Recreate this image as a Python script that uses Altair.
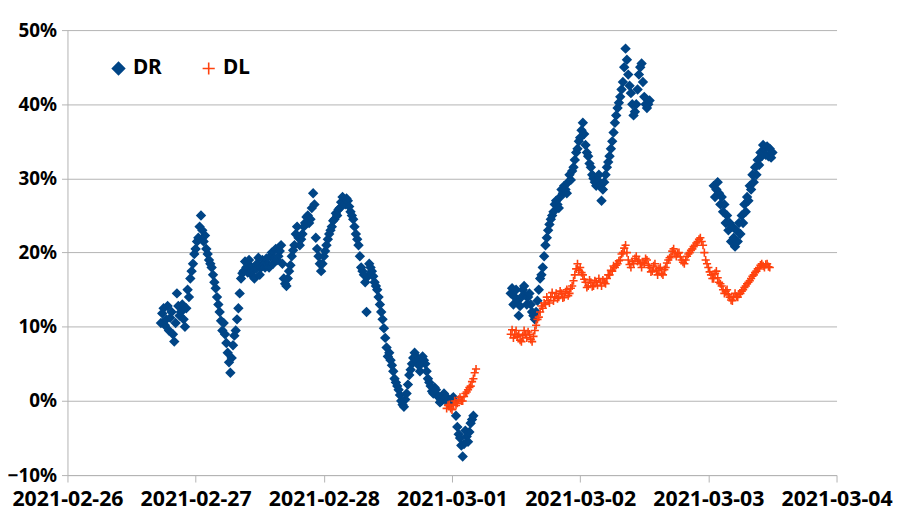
import altair as alt
import pandas as pd

# ---- data (percent values, 15-minute steps) ----
dr1_start = "2021-02-26T17:30:00"
dr1 = [10.5, 11.8, 12.5, 10.2, 11.0, 12.8, 9.5, 11.2, 12.0, 9.0, 8.0, 10.5, 14.5, 12.8, 11.5, 12.0, 13.0, 11.0, 10.0, 12.5,
       15.0, 14.0, 16.5, 17.5, 18.5, 19.8, 20.5, 21.5, 22.0, 23.5, 25.0, 23.0, 21.5, 22.3, 20.5, 19.8, 19.0, 18.5, 18.0, 17.0,
       16.0, 15.2, 14.0, 13.0, 12.0, 10.8, 9.5, 10.5, 9.0, 7.8, 6.5, 5.2, 3.8, 5.8, 7.5, 8.8, 9.5, 11.0, 12.5, 14.5,
       16.5, 17.2, 17.5, 18.8, 18.0, 17.3, 19.0, 18.2, 17.5, 16.8, 16.5, 17.8, 18.5, 19.3, 17.0, 18.0, 19.0, 18.3, 18.0, 19.2,
       18.5, 18.0, 19.5, 20.0, 18.5, 19.2, 20.5, 19.0, 19.5, 20.2, 21.0, 18.5, 16.5, 15.8, 15.5, 16.5, 17.5, 18.3, 19.5, 20.3,
       21.0, 22.5, 23.5, 22.0, 21.0, 21.8, 22.5, 23.5, 24.0, 24.8, 25.0, 24.0, 24.5, 26.0, 28.0, 26.5, 22.0, 20.5, 19.5, 18.5,
       17.5, 18.5, 19.5, 20.2, 21.0, 21.8, 22.5, 23.0, 23.5, 24.3, 24.5, 25.3, 25.0, 25.8, 26.0, 26.8, 27.5, 27.0, 26.5, 27.3,
       27.0, 26.2, 25.5, 25.0, 24.5, 23.5, 22.5, 21.8, 21.0, 19.5, 18.0, 17.5, 17.0, 16.0, 12.0, 16.8, 18.5, 18.0, 17.5, 16.8,
       16.0, 15.5, 15.0, 14.0, 13.0, 12.0, 11.0, 9.8, 8.5, 7.2, 6.0, 6.5, 5.5, 4.8, 4.0, 3.0, 2.5, 2.0, 1.5, 0.8,
       0.0, -0.5, -0.8, 0.2, 1.0, 2.2, 3.5, 4.2, 5.0, 5.8, 6.5, 6.0, 5.5, 4.8, 4.0, 5.0, 6.0, 5.5, 5.0, 4.0,
       3.0, 2.5, 2.0, 1.3, 1.0, 1.8, 1.5, 0.8, 0.5, -0.2, 0.0, 0.7, 1.0, 0.2, 0.5, 0.0, -0.5, -0.2, 0.3, 0.5,
       0.0, -2.0, -3.5, -4.5, -5.0, -6.0, -7.5, -5.8, -4.0, -4.8, -5.5, -4.2, -3.0, -2.5, -2.0]

dl1_start = "2021-02-28T23:00:00"
dl1 = [-1.0, -0.6, -0.5, -1.0, -1.2, -0.5, 0.0, -0.6, -0.3, 0.2, 0.5, 0.0,
       0.0, 0.6, 1.0, 1.2, 1.5, 1.8, 2.0, 2.6, 3.0, 3.8, 4.3]

dr2_start = "2021-03-01T11:00:00"
dr2 = [14.5, 15.2, 13.0, 14.0, 15.0, 13.5, 11.5, 12.8, 14.0, 15.0, 15.5, 14.2, 13.0, 14.0, 14.5, 13.0, 12.0, 11.5, 11.0, 12.0,
       13.5, 15.0, 16.5, 17.0, 18.0, 19.5, 21.0, 22.0, 23.0, 23.8, 24.5, 25.0, 25.5, 26.5, 27.0, 26.5, 26.0, 27.5, 28.5, 28.0,
       29.0, 28.5, 28.0, 29.5, 30.5, 29.8, 31.0, 31.5, 32.5, 33.5, 34.0, 35.0, 35.5, 36.5, 37.5, 36.0, 34.5, 33.5, 33.0, 32.0,
       31.5, 30.5, 30.0, 29.5, 29.0, 29.8, 30.5, 29.0, 27.0, 28.5, 29.5, 30.5, 31.5, 32.2, 33.0, 34.0, 35.0, 36.2, 37.5, 38.5,
       39.5, 40.2, 41.0, 42.0, 43.0, 45.0, 47.5, 46.0, 44.0, 42.5, 41.5, 40.0, 38.5, 39.0, 40.0, 42.0, 44.0, 45.0, 45.5, 43.0,
       41.0, 40.0, 39.5, 40.0, 40.5]

dl2_start = "2021-03-01T11:00:00"
dl2 = [9.0, 9.6, 8.5, 8.9, 9.5, 8.7, 9.0, 8.2, 8.0, 8.8, 9.5, 9.0, 8.5, 9.3, 9.0, 8.3, 8.0, 8.7, 9.5, 10.2,
       11.0, 11.3, 12.0, 12.8, 12.5, 13.2, 13.0, 14.0, 13.5, 13.2, 14.0, 14.6, 13.5, 14.0, 14.5, 13.8, 14.0, 14.8, 14.5, 13.9,
       14.0, 14.7, 15.0, 14.2, 14.5, 15.2, 15.5, 16.2, 17.0, 17.8, 18.5, 17.6, 18.0, 17.3, 17.0, 16.4, 16.0, 15.3, 15.5, 16.3,
       16.0, 15.4, 15.5, 16.2, 16.0, 15.6, 16.5, 16.0, 15.5, 16.3, 16.0, 15.8, 16.5, 17.0, 17.0, 17.6, 17.5, 18.2, 18.0, 18.3,
       18.5, 18.9, 19.0, 19.8, 20.0, 20.6, 21.0, 20.0, 19.0, 18.4, 18.0, 18.8, 18.5, 19.2, 19.5, 18.8, 19.0, 18.5, 18.0, 18.7,
       18.5, 19.2, 19.0, 18.3, 18.0, 17.4, 17.5, 18.2, 18.5, 17.6, 17.0, 17.8, 18.0, 17.2, 17.0, 17.7, 18.0, 18.6, 19.0, 19.3,
       19.5, 20.2, 20.5, 19.8, 19.5, 19.9, 20.0, 19.4, 19.0, 18.7, 18.5, 19.0, 19.5, 19.8, 20.0, 20.3, 20.5, 20.8, 21.0, 21.3,
       21.5, 21.8, 22.0, 21.5, 21.0, 20.0, 19.0, 18.5, 18.0, 17.4, 17.0, 16.5, 16.5, 17.2, 17.5, 16.6, 16.0, 15.8, 15.5, 15.0,
       14.5, 14.8, 15.0, 14.3, 14.0, 13.6, 13.5, 14.0, 14.5, 14.1, 14.0, 14.4, 14.5, 14.8, 15.0, 15.3, 15.5, 15.8, 16.0, 16.2,
       16.5, 16.8, 17.0, 17.3, 17.5, 17.8, 18.0, 18.3, 18.5, 18.2, 18.0, 18.4, 18.5, 18.1, 18.0]

dr3_start = "2021-03-03T01:00:00"
dr3 = [29.0, 27.5, 28.5, 29.5, 28.0, 26.5, 27.5, 25.5, 26.5, 24.0, 25.0, 23.0, 24.0, 21.5, 23.5, 22.0, 20.8, 23.0, 21.5, 24.0,
       22.5, 25.0, 24.0, 26.5, 25.5, 27.5, 27.0, 29.0, 28.5, 30.5, 29.5, 31.5, 30.5, 32.5, 31.8, 33.5, 33.0, 34.5, 34.0, 33.2,
       34.3, 33.0, 34.0, 32.8, 33.5]

series_names = ["DR", "DL"]
series_colors = ["#004586", "#ff420e"]
series_shapes = ["diamond", "M-1,0H1M0,-1V1"]
x_days = [(2, 26), (2, 27), (2, 28), (3, 1), (3, 2), (3, 3), (3, 4)]
y_ticks = [-0.1, 0.0, 0.1, 0.2, 0.3, 0.4, 0.5]


def seg(start, vals, name):
    ts = pd.date_range(start, periods=len(vals), freq="15min")
    return pd.DataFrame({
        "t": ts.strftime("%Y-%m-%dT%H:%M:%SZ"),
        "v": [x / 100 for x in vals],
        "series": name,
    })


df = pd.concat([
    seg(dr1_start, dr1, "DR"),
    seg(dr2_start, dr2, "DR"),
    seg(dr3_start, dr3, "DR"),
    seg(dl1_start, dl1, "DL"),
    seg(dl2_start, dl2, "DL"),
], ignore_index=True)


def dt(m, d):
    return alt.DateTime(year=2021, month=m, date=d, utc=True)


color_scale = alt.Scale(domain=series_names, range=series_colors)
shape_scale = alt.Scale(domain=series_names, range=series_shapes)
leg = alt.Legend(title=None, orient="none", legendX=41, legendY=28,
                 direction="horizontal", labelFont="Noto Sans",
                 labelFontSize=21, labelFontWeight="bold", labelColor="#000000",
                 symbolSize=150, symbolStrokeWidth=1.6, labelOffset=4,
                 columnPadding=36, symbolType="diamond")

chart = alt.Chart(df).mark_point(filled=True, size=68, strokeWidth=1.6, opacity=1).encode(
    x=alt.X("t:T",
            scale=alt.Scale(type="utc", domain=[dt(2, 26), dt(3, 4)]),
            axis=alt.Axis(values=[dt(m, d) for m, d in x_days], format="%Y-%m-%d",
                          title=None, grid=False, labelPadding=7, labelOverlap=False,
                          labelFontSize=21.5, labelFlush=False)),
    y=alt.Y("v:Q",
            scale=alt.Scale(domain=[-0.1, 0.5], nice=False, zero=False),
            axis=alt.Axis(values=y_ticks, format=".0%", title=None, grid=True,
                          labelPadding=5, tickSize=6, labelFontSize=19)),
    color=alt.Color("series:N", scale=color_scale, legend=leg),
    stroke=alt.Stroke("series:N", scale=color_scale, legend=leg),
    shape=alt.Shape("series:N", scale=shape_scale, legend=leg),
).properties(
    width=776, height=449,
    autosize=alt.AutoSizeParams(type="none"),
    padding={"left": 60, "top": 20, "right": 60, "bottom": 40},
).configure_view(
    stroke=None
).configure_axis(
    labelFont="Noto Sans", labelFontSize=20, labelFontWeight="bold",
    labelColor="#000000", domainColor="#b3b3b3", tickColor="#b3b3b3",
    gridColor="#b3b3b3", tickSize=7, domainWidth=1, gridWidth=1
)

chart.save("out.html", embed_options={"renderer": "svg", "actions": False})
